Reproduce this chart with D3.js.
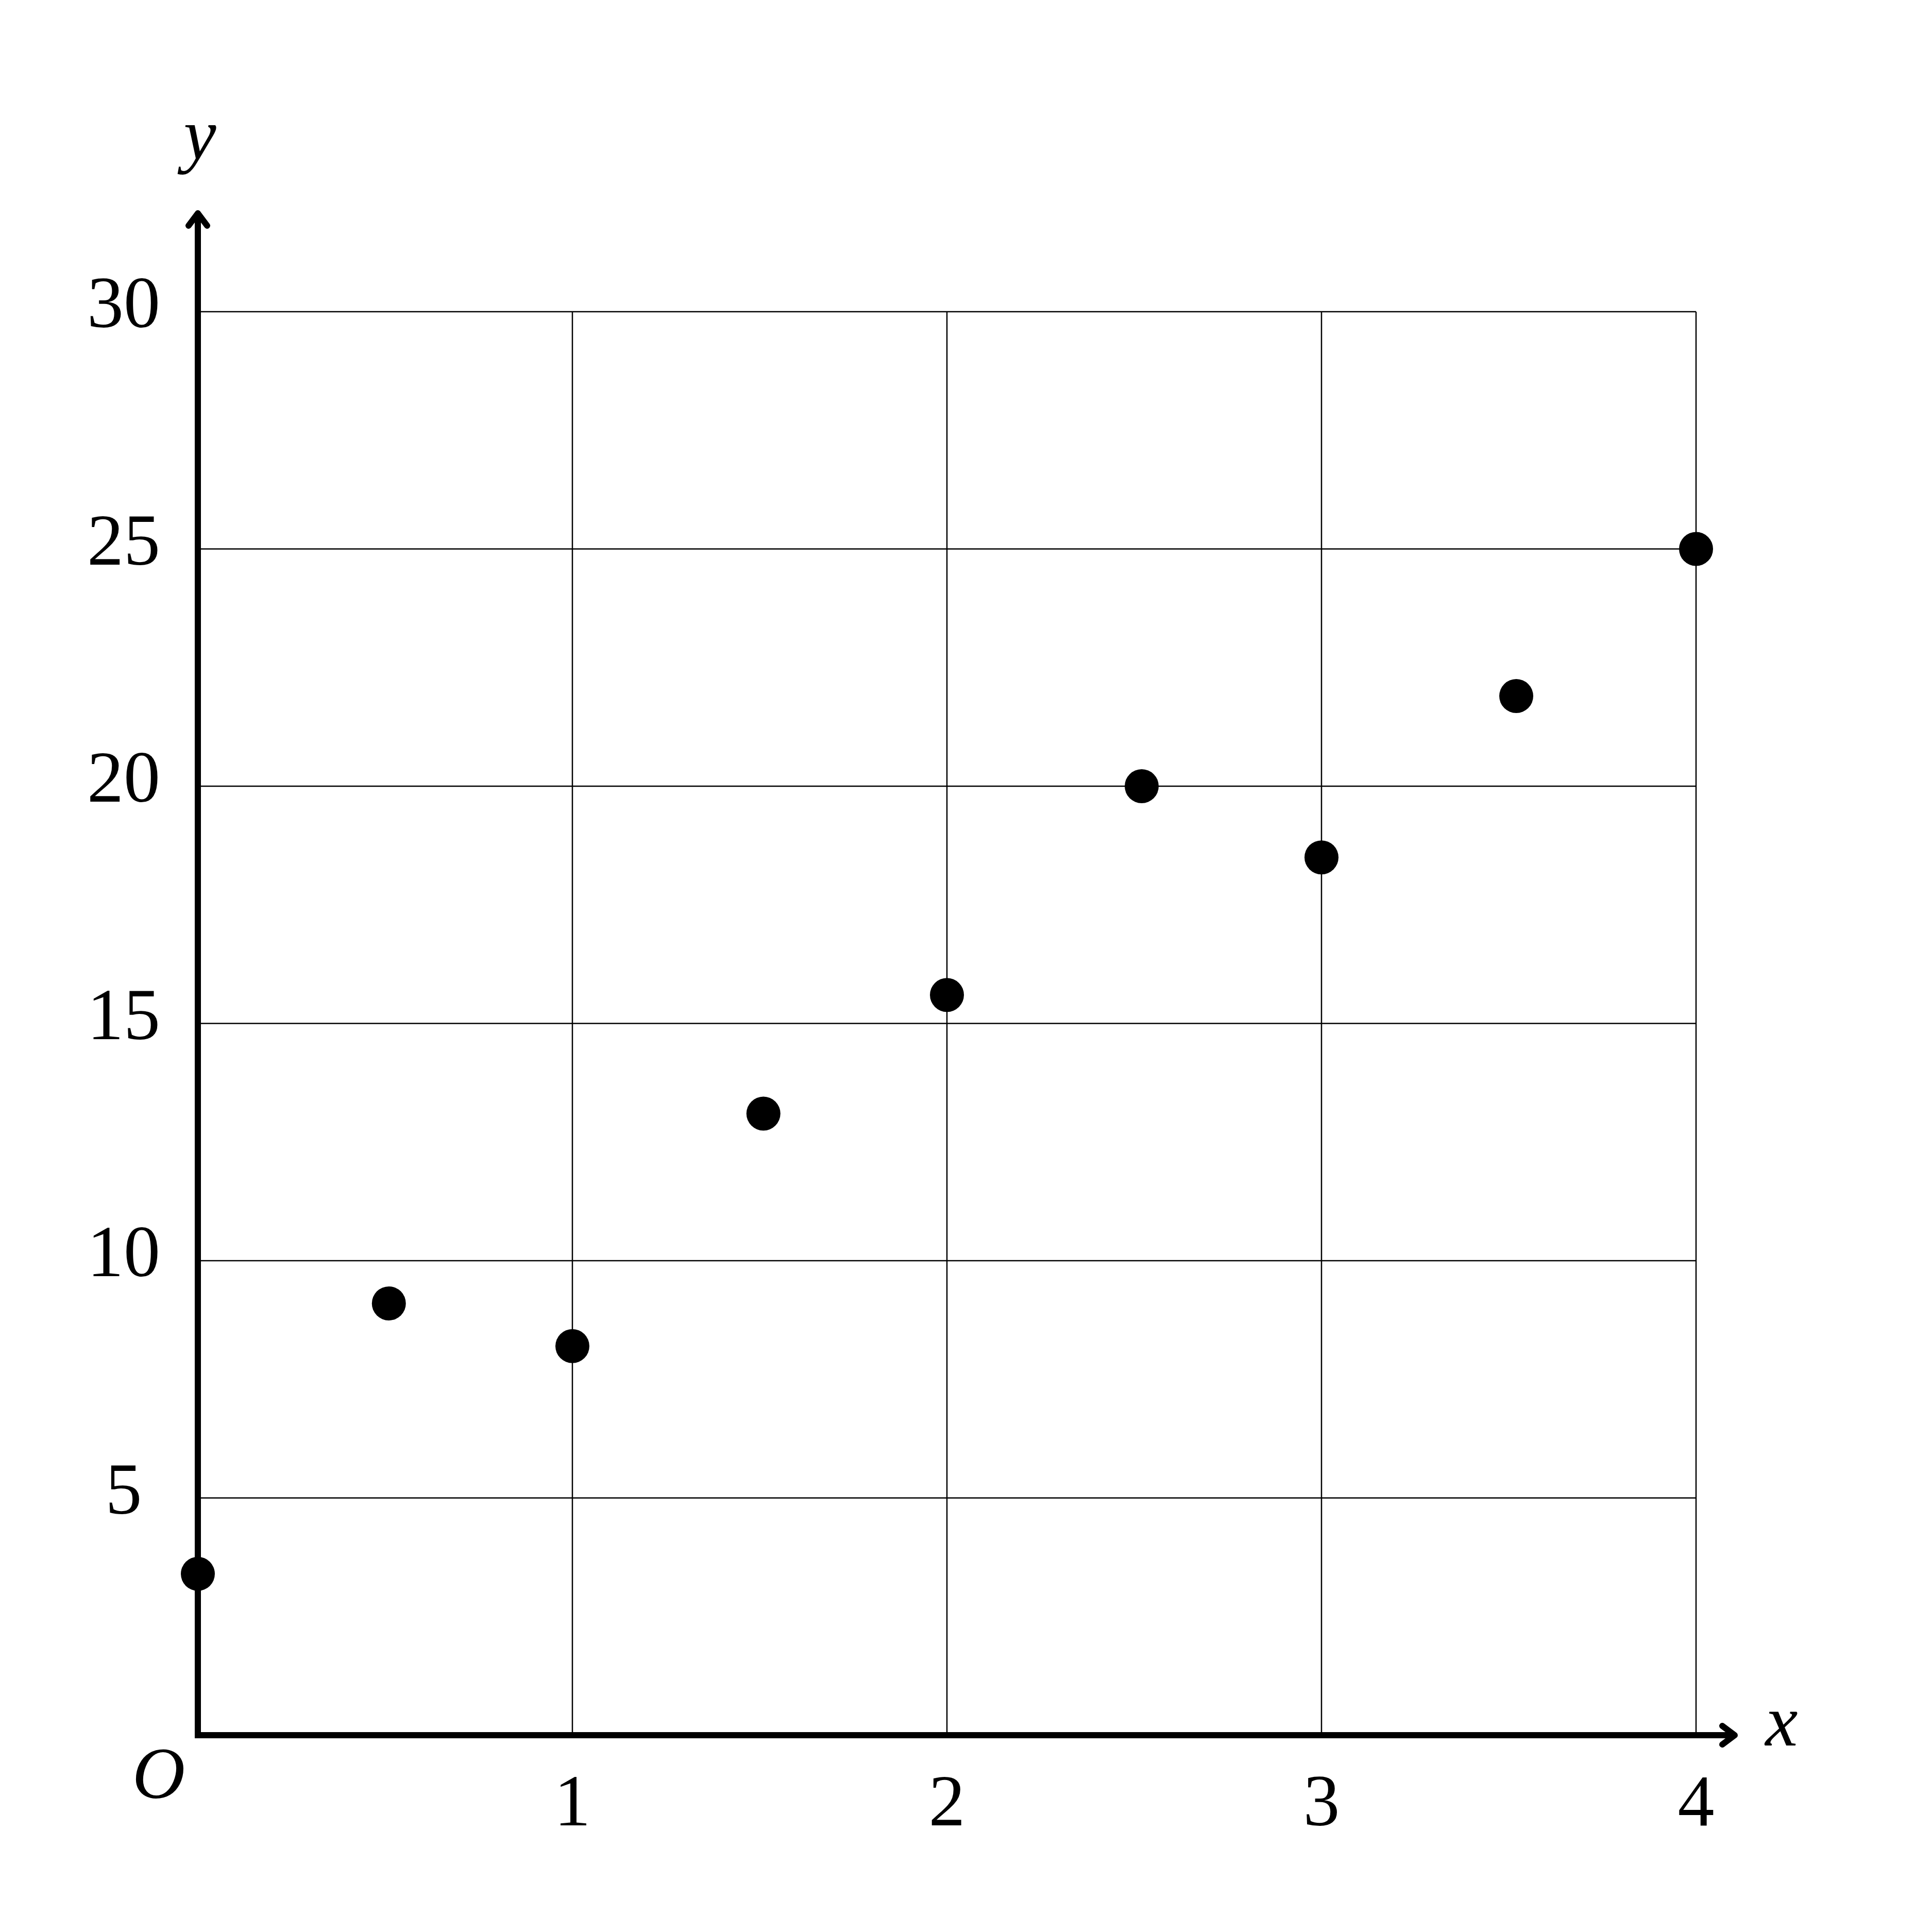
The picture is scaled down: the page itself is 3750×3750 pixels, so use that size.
<!DOCTYPE html>
<html>
<head>
<meta charset="utf-8">
<script src="https://d3js.org/d3.v7.min.js"></script>
<style>
    body { margin: 0; background: #fff; }
    text { font-family: "Liberation Serif", "Times New Roman", serif; fill: #000; }
</style>
</head>
<body>
<svg id="viz" width="3750" height="3750"></svg>
<script>
// points
var xValues = [0, 0.51, 1, 1.51, 2, 2.52, 3, 3.52, 4];
var yValues = [3.4, 9.1, 8.2, 13.1, 15.6, 20.0, 18.5, 21.9, 25.0];

// grid lines / tick labels
var xTicks = [1, 2, 3, 4];
var yTicks = [5, 10, 15, 20, 25, 30];

window.addEventListener("load", draw);

function draw() {
    var svg = d3.select("#viz");

    svg.append("rect")
        .attr("width", 3750)
        .attr("height", 3750)
        .attr("fill", "#fff");

    var x = d3.scaleLinear().domain([0, 4]).range([384, 3292]);
    var y = d3.scaleLinear().domain([0, 30]).range([3368, 605]);

    var grid = svg.append("g")
        .attr("stroke", "#000")
        .attr("stroke-width", 2.5);

    // vertical grid lines
    grid.selectAll("line.v").data(xTicks).enter()
        .append("line")
        .attr("class", "v")
        .attr("x1", function (d) { return x(d); })
        .attr("x2", function (d) { return x(d); })
        .attr("y1", y(0))
        .attr("y2", y(30));

    // horizontal grid lines
    grid.selectAll("line.h").data(yTicks).enter()
        .append("line")
        .attr("class", "h")
        .attr("x1", x(0))
        .attr("x2", x(4))
        .attr("y1", function (d) { return y(d); })
        .attr("y2", function (d) { return y(d); });

    // axes, meeting in a square corner
    svg.append("path")
        .attr("d", "M" + x(0) + "," + 412 + " L" + x(0) + "," + y(0) + " L" + 3368 + "," + y(0))
        .attr("fill", "none")
        .attr("stroke", "#000")
        .attr("stroke-width", 12)
        .attr("stroke-linecap", "butt")
        .attr("stroke-linejoin", "miter");

    // close the corner so the x axis pokes out a little to the left
    svg.append("line")
        .attr("x1", x(0) - 6)
        .attr("x2", x(0) + 6)
        .attr("y1", y(0))
        .attr("y2", y(0))
        .attr("stroke", "#000")
        .attr("stroke-width", 12);

    // arrow heads
    var heads = [
        [[x(0) - 18, 438], [x(0), 414], [x(0) + 18, 438]],
        [[3343, y(0) - 18], [3367, y(0)], [3343, y(0) + 18]]
    ];
    svg.selectAll("path.head").data(heads).enter()
        .append("path")
        .attr("class", "head")
        .attr("d", d3.line())
        .attr("fill", "none")
        .attr("stroke", "#000")
        .attr("stroke-width", 12)
        .attr("stroke-linecap", "round")
        .attr("stroke-linejoin", "round");

    // data points
    svg.selectAll("circle").data(xValues).enter()
        .append("circle")
        .attr("cx", function (d) { return x(d); })
        .attr("cy", function (d, i) { return y(yValues[i]); })
        .attr("r", 33)
        .attr("fill", "#000");

    // y tick labels
    svg.selectAll("text.ylab").data(yTicks).enter()
        .append("text")
        .attr("class", "ylab")
        .attr("x", 240)
        .attr("y", function (d) { return y(d) + 30; })
        .attr("text-anchor", "middle")
        .style("font-size", "142px")
        .text(function (d) { return d; });

    // x tick labels
    svg.selectAll("text.xlab").data(xTicks).enter()
        .append("text")
        .attr("class", "xlab")
        .attr("x", function (d) { return x(d); })
        .attr("y", 3543)
        .attr("text-anchor", "middle")
        .style("font-size", "142px")
        .text(function (d) { return d; });

    // axis names and origin
    var names = [
        { text: "y", x: 388, y: 309 },
        { text: "x", x: 3458, y: 3388 },
        { text: "O", x: 308, y: 3490 }
    ];
    svg.selectAll("text.name").data(names).enter()
        .append("text")
        .attr("class", "name")
        .attr("x", function (d) { return d.x; })
        .attr("y", function (d) { return d.y; })
        .attr("text-anchor", "middle")
        .style("font-size", "142px")
        .style("font-style", "italic")
        .text(function (d) { return d.text; });
}
</script>
</body>
</html>
